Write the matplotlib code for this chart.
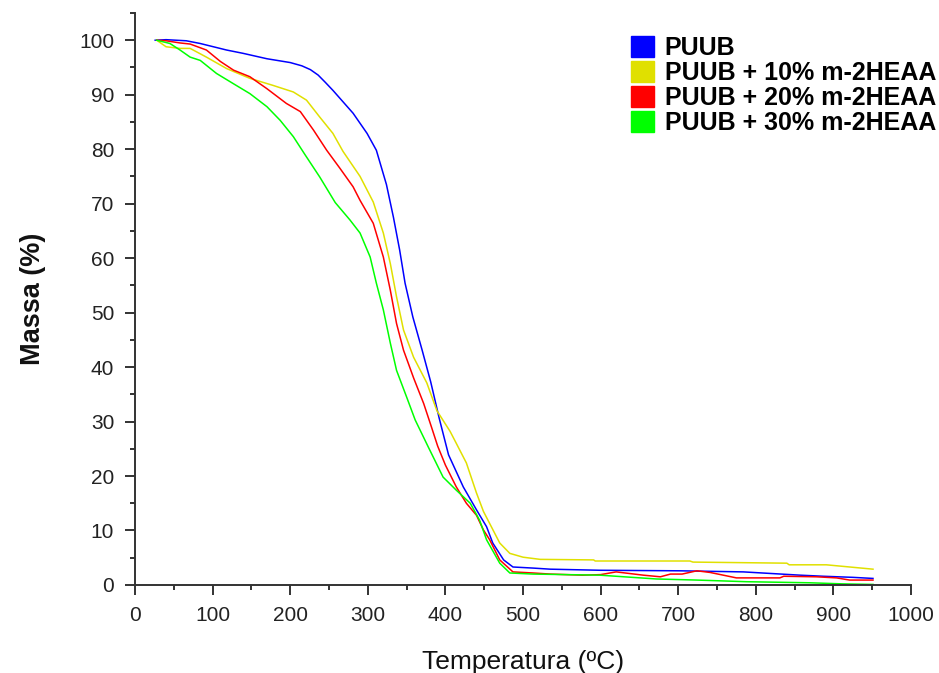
import matplotlib
matplotlib.use("Agg")
import matplotlib.pyplot as plt
from matplotlib.patches import Patch
from matplotlib.ticker import MultipleLocator

plt.rcParams['font.family'] = ['Liberation Sans', 'DejaVu Sans']

labels = ["PUUB", "PUUB + 10% m-2HEAA", "PUUB + 20% m-2HEAA", "PUUB + 30% m-2HEAA"]
colors = ["#0000ff", "#e0e000", "#ff0000", "#00ff00"]

t_puub = [26, 40, 66, 84, 118, 139, 170, 200, 215, 226, 236, 245, 255, 268, 281, 299, 311, 324,
          333, 341, 348, 358, 370, 381, 392, 404, 423, 440, 453, 461, 475, 487, 513, 535, 599, 702,
          784, 857, 887, 925, 951]
m_puub = [100, 100.1, 99.9, 99.4, 98.2, 97.6, 96.6, 95.9, 95.3, 94.6, 93.6, 92.3, 90.8, 88.7, 86.6,
          82.9, 79.8, 73.5, 67.5, 61.5, 55.4, 49.2, 43.1, 37.3, 30.6, 23.9, 18, 13.8, 10.7, 7.7,
          4.6, 3.3, 3.1, 2.9, 2.7, 2.6, 2.4, 1.8, 1.6, 1.4, 1.2]

t_10 = [28, 40, 58, 71, 92, 118, 148, 178, 204, 221, 238, 255, 268, 290, 307, 320, 329, 337, 346,
        359, 376, 389, 406, 414, 427, 440, 449, 470, 483, 500, 522, 591, 593, 715, 719, 840, 843,
        891, 921, 951]
m_10 = [100, 98.8, 98.5, 98.5, 96.9, 94.8, 93, 91.7, 90.5, 89, 85.9, 82.9, 79.6, 75, 70.3, 64.6,
        59, 52.9, 46.8, 41.8, 37.1, 32, 28.2, 26, 22.4, 16.9, 13.5, 7.7, 5.8, 5.1, 4.7, 4.6, 4.4,
        4.4, 4.2, 4.0, 3.7, 3.7, 3.3, 2.9]

t_20 = [28, 40, 58, 71, 92, 110, 127, 148, 170, 195, 213, 230, 247, 264, 281, 290, 307, 320, 329,
        337, 346, 359, 372, 382, 390, 400, 414, 427, 440, 449, 457, 470, 487, 513, 535, 577, 600,
        620, 655, 677, 690, 705, 724, 741, 758, 775, 831, 836, 878, 904, 921, 951]
m_20 = [100, 99.9, 99.5, 99.3, 98.2, 96.1, 94.5, 93.3, 91.1, 88.4, 86.9, 83.5, 79.8, 76.5, 73.1,
        70.6, 66.4, 60.2, 54.1, 48, 43.1, 38, 33.3, 29, 25.5, 22, 18, 15, 12.8, 10.1, 8.3, 4.6, 2.4,
        2.2, 2.0, 1.8, 1.9, 2.4, 1.8, 1.5, 2.0, 2.0, 2.6, 2.3, 1.8, 1.3, 1.3, 1.6, 1.5, 1.3, 0.9, 0.9]

t_30 = [28, 45, 58, 71, 84, 105, 127, 148, 170, 187, 204, 219, 238, 258, 277, 290, 303, 311, 320,
        329, 337, 350, 361, 378, 397, 414, 432, 444, 453, 470, 483, 513, 599, 672, 724, 788, 870,
        912, 951]
m_30 = [100, 99.4, 98.2, 96.9, 96.3, 93.9, 92, 90.2, 87.8, 85.3, 82.3, 79, 74.9, 70.2, 67, 64.6,
        60.2, 55.4, 50.5, 44.4, 39.4, 34.5, 30.3, 25.3, 19.8, 17.4, 15, 11.9, 8.3, 4.0, 2.2, 2.0,
        1.8, 1.1, 0.9, 0.6, 0.4, 0.2, 0.1]

series = [(t_puub, m_puub), (t_10, m_10), (t_20, m_20), (t_30, m_30)]

fig = plt.figure(figsize=(9.39, 6.73), dpi=100)
ax = fig.add_axes([0.1438, 0.1308, 0.8264, 0.8499])

for (t, m), c in zip(series, colors):
    ax.plot(t, m, color=c, lw=1.1)

ax.set_xlim(0, 1000)
ax.set_ylim(0, 105)
ax.xaxis.set_major_locator(MultipleLocator(100))
ax.xaxis.set_minor_locator(MultipleLocator(50))
ax.yaxis.set_major_locator(MultipleLocator(10))
ax.yaxis.set_minor_locator(MultipleLocator(5))
ax.set_yticks(range(0, 101, 10))

for side in ("top", "right"):
    ax.spines[side].set_visible(False)
for side in ("left", "bottom"):
    ax.spines[side].set_color("#333333")
    ax.spines[side].set_linewidth(1.4)

ax.tick_params(which="major", direction="out", length=7, width=1.4, color="#333333",
               labelsize=15, labelcolor="#222222", pad=8)
ax.tick_params(which="minor", direction="out", length=3.6, width=1.4, color="#333333")

ax.set_xlabel("Temperatura (ºC)", fontsize=19, labelpad=18, color="#111111")
ax.set_ylabel("Massa (%)", fontsize=19.5, fontweight="bold", labelpad=24, color="#111111")

handles = [Patch(facecolor=c, edgecolor=c) for c in colors]
fig.legend(handles, labels, loc="upper left", bbox_to_anchor=(0.672, 0.946),
           frameon=False, prop={"weight": "bold", "size": 18}, handlelength=0.92,
           handleheight=0.92, handletextpad=0.42, labelspacing=0.03,
           borderpad=0, borderaxespad=0)

fig.savefig("out.png", dpi=100)
